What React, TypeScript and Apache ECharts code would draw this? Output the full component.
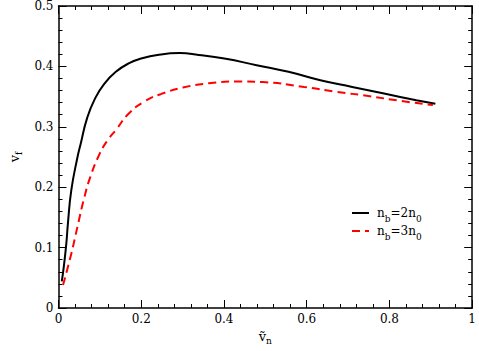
import React, { useEffect, useRef } from "react";
import * as echarts from "echarts";

const blackX = [0.008, 0.0128, 0.019, 0.0228, 0.031, 0.046, 0.0537, 0.069, 0.0885, 0.1117, 0.1386, 0.1696, 0.2, 0.239, 0.293, 0.339, 0.401, 0.479, 0.556, 0.633, 0.71, 0.787, 0.865, 0.911];
const blackY = [0.044, 0.068, 0.107, 0.14, 0.195, 0.25, 0.272, 0.314, 0.347, 0.372, 0.391, 0.405, 0.413, 0.419, 0.422, 0.419, 0.413, 0.402, 0.391, 0.377, 0.366, 0.355, 0.344, 0.338];
const redX = [0.011, 0.031, 0.046, 0.061, 0.077, 0.1, 0.12, 0.139, 0.17, 0.208, 0.247, 0.301, 0.363, 0.432, 0.494, 0.594, 0.672, 0.749, 0.826, 0.905];
const redY = [0.038, 0.09, 0.135, 0.179, 0.217, 0.256, 0.279, 0.295, 0.322, 0.342, 0.354, 0.365, 0.372, 0.375, 0.374, 0.366, 0.358, 0.351, 0.343, 0.336];
const seriesNames = ["nb=2n0", "nb=3n0"];
const legendLabels: Record<string, string> = {
  "nb=2n0": "{m|n}{s|b}{m|=2n}{s|0}",
  "nb=3n0": "{m|n}{s|b}{m|=3n}{s|0}",
};

const FONT = "DejaVu Serif";

const nameRich = {
  m: { fontSize: 13, fontFamily: FONT, color: "#000", lineHeight: 18 },
  s: { fontSize: 9, fontFamily: FONT, color: "#000", lineHeight: 7, verticalAlign: "bottom" },
};
const legendRich = {
  m: { fontSize: 12, fontFamily: FONT, color: "#000", lineHeight: 20 },
  s: { fontSize: 9, fontFamily: FONT, color: "#000", lineHeight: 9, verticalAlign: "bottom" },
};

function axisCommon(showLabel: boolean, isX: boolean) {
  return {
    type: "value",
    min: 0,
    max: isX ? 1 : 0.5,
    interval: isX ? 0.2 : 0.1,
    axisLine: { show: true, onZero: false, lineStyle: { color: "#000", width: 1.5 } },
    axisTick: { show: true, inside: true, length: 8, lineStyle: { color: "#000", width: 1 } },
    minorTick: { show: true, splitNumber: 5, length: 4, lineStyle: { color: "#000", width: 1 } },
    splitLine: { show: false },
    minorSplitLine: { show: false },
    axisLabel: {
      show: showLabel,
      color: "#000",
      fontSize: 12,
      fontFamily: FONT,
      margin: 5,
      formatter: (v: number) => String(+v.toFixed(1)),
    },
  };
}

export default function App() {
  const ref = useRef<HTMLDivElement>(null);
  useEffect(() => {
    document.body.style.margin = "0";
    const chart = echarts.init(ref.current!, null, { renderer: "svg" });
    chart.setOption({
      animation: false,
      backgroundColor: "#fff",
      textStyle: { fontFamily: FONT },
      grid: { left: 43.5, right: 4, top: 6, bottom: 43, containLabel: false },
      xAxis: [
        {
          ...axisCommon(true, true),
          position: "bottom",
          name: "{m|ṽ}{s|n}",
          nameLocation: "middle",
          nameGap: 19,
          nameTextStyle: { fontFamily: FONT, rich: nameRich },
        },
        { ...axisCommon(false, true), position: "top" },
      ],
      yAxis: [
        {
          ...axisCommon(true, false),
          position: "left",
          name: "{m|v}{s|f}",
          nameLocation: "middle",
          nameGap: 31,
          nameRotate: 90,
          nameTextStyle: { fontFamily: FONT, rich: nameRich },
        },
        { ...axisCommon(false, false), position: "right" },
      ],
      legend: {
        orient: "vertical",
        left: 346,
        top: 202,
        itemWidth: 17,
        itemHeight: 12,
        itemGap: 2,
        itemStyle: { opacity: 0 },
        data: seriesNames,
        formatter: (name: string) => legendLabels[name],
        textStyle: { fontFamily: FONT, rich: legendRich, padding: [0, 0, 0, 3] },
      },
      series: [
        {
          name: seriesNames[0],
          type: "line",
          data: blackX.map((x, i) => [x, blackY[i]]),
          showSymbol: false,
          symbol: "none",
          smooth: 0.5,
          lineStyle: { color: "#000", width: 2 },
          itemStyle: { color: "#000" },
        },
        {
          name: seriesNames[1],
          type: "line",
          data: redX.map((x, i) => [x, redY[i]]),
          showSymbol: false,
          symbol: "none",
          smooth: 0.5,
          lineStyle: { color: "#ff0000", width: 2, type: [8, 5] },
          itemStyle: { color: "#ff0000" },
        },
      ],
    });
    return () => chart.dispose();
  }, []);
  return <div ref={ref} style={{ width: 479, height: 351 }} />;
}
